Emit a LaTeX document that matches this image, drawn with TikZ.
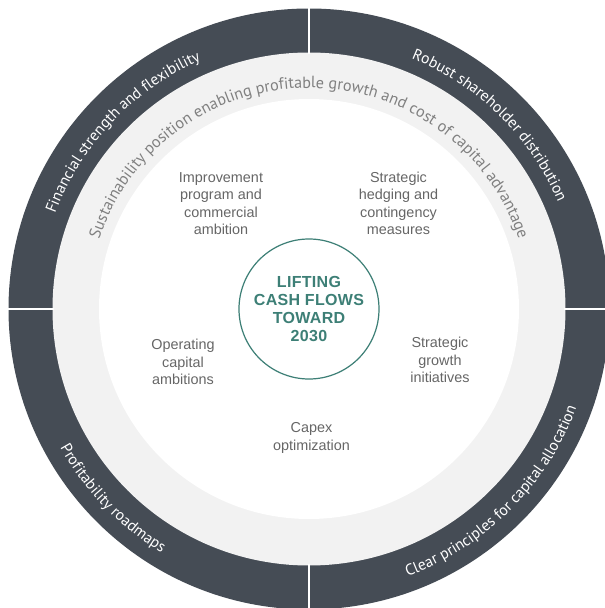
\documentclass[tikz,border=0pt]{standalone}
\usepackage{fontspec}
\setmainfont{Liberation Sans}
\newfontfamily\ringfont{PT Sans}
\usetikzlibrary{decorations.text}

\definecolor{ringdark}{HTML}{454C55}
\definecolor{ringlight}{HTML}{F2F2F2}
\definecolor{hubteal}{HTML}{3D7F76}
\definecolor{levergray}{HTML}{666666}
\definecolor{arcgray}{HTML}{808080}

\begin{document}
\begin{tikzpicture}[x = 1pt, y = 1pt,
	lever/.style = {align = center, text = levergray, font = \fontsize{14.4}{17.4}\selectfont},
	ringtext/.style = {decorate, decoration = {text along path, text align = center, text = {#1}}}]

	\useasboundingbox (-309, -299) rectangle (296, 309);
	\clip (-309, -299) rectangle (296, 309);

	% Rings
	
	\fill [ringdark] (0, 0) circle (300.5pt);
	\fill [ringlight] (0, 0) circle (256.5pt);
	\fill [white] (0, 0) circle (210pt);
	
	\foreach \a in {0, 90, 180, 270}
		\draw [white, line width = 2.5pt] (\a : 255) -- (\a : 303);
	
	% Ring labels
	
	\path [ringtext = {|\ringfont\fontsize{15.6}{15.6}\selectfont\color{white}|Financial strength and flexibility}]
		(180 : 271) arc [start angle = 180, end angle = 93, radius = 271pt];
	\path [ringtext = {|\ringfont\fontsize{15.6}{15.6}\selectfont\color{white}|Robust shareholder distribution}]
		(88 : 271) arc [start angle = 88, end angle = 3, radius = 271pt];
	\path [ringtext = {|\ringfont\fontsize{15.6}{15.6}\selectfont\color{white}|Profitability roadmaps}]
		(181 : 285) arc [start angle = 181, end angle = 267, radius = 285pt];
	\path [ringtext = {|\ringfont\fontsize{15.6}{15.6}\selectfont\color{white}|Clear principles for capital allocation}]
		(-88 : 285) arc [start angle = -88, end angle = -2, radius = 285pt];
	
	\path [ringtext = {|\ringfont\fontsize{16.2}{16.2}\selectfont\color{arcgray}|Sustainability position enabling profitable growth and cost of capital advantage}]
		(179 : 221) arc [start angle = 179, end angle = 1, radius = 221pt];
	
	% Hub
	
	\node [circle, draw = hubteal, line width = 1.2pt, minimum size = 140pt, inner sep = 0pt, align = center, text = hubteal,
		font = \bfseries\addfontfeature{LetterSpace = 2}\fontsize{16}{18.3}\selectfont] (hub) at (0, 0) {LIFTING\\CASH FLOWS\\TOWARD\\2030};
	
	% Levers
	
	\node [lever] (improve) at (-88, 105.5) {Improvement\\program and\\commercial\\ambition};
	\node [lever] (hedging) at (89.5, 105.5) {Strategic\\hedging and\\contingency\\measures};
	\node [lever] (opcap) at (-126, -53) {Operating\\capital\\ambitions};
	\node [lever] (growth) at (131, -51) {Strategic\\growth\\initiatives};
	\node [lever] (capex) at (2.5, -129) {Capex\\optimization};

\end{tikzpicture}
\end{document}
